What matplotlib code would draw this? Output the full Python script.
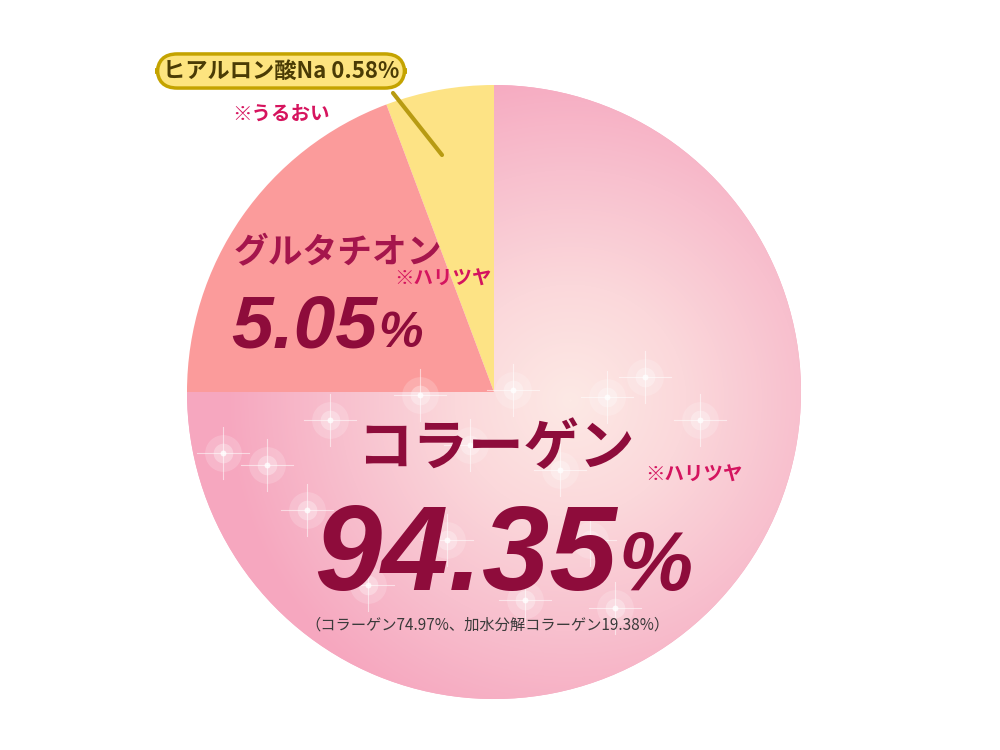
import numpy as np
import matplotlib
matplotlib.use("Agg")
import matplotlib.pyplot as plt
from matplotlib import font_manager
from matplotlib.colors import LinearSegmentedColormap

plt.rcParams['font.family'] = ['Noto Sans CJK JP', 'DejaVu Sans']

# データ（表示上の割合は画像の角度から読み取り）
ingredients = ["ヒアルロン酸Na", "グルタチオン", "コラーゲン"]
label_values = ["0.58", "5.05", "94.35"]
shares = [5.7, 19.3, 75.0]
notes = ["※うるおい", "※ハリツヤ", "※ハリツヤ"]
breakdown = "（コラーゲン74.97%、加水分解コラーゲン19.38%）"

# 数字用フォント（Narrowがあれば使う）
names = {f.name for f in font_manager.fontManager.ttflist}
num_font = 'Liberation Sans Narrow' if 'Liberation Sans Narrow' in names else 'Liberation Sans'

fig = plt.figure(figsize=(10, 7.5), dpi=100)
ax = fig.add_axes([0, 0, 1, 1])
cx, cy, r = 494, 392, 307

wedges, _ = ax.pie(shares, colors=['#fde385', '#fb9b9b', '#f6a8c0'],
                   startangle=270, counterclock=False, radius=r, center=(cx, cy),
                   wedgeprops=dict(linewidth=0))

# コラーゲン部分のグラデーション
x0, x1, y0, y1 = cx - r, cx + r, cy - r, cy + r
xx, yy = np.meshgrid(np.arange(x0, x1), np.arange(y0, y1))
t = np.clip(np.hypot(xx - 570, yy - 400) / 345, 0, 1)
cmap = LinearSegmentedColormap.from_list('pk', ['#fde9e5', '#fbd8db', '#f8c0ce', '#f6a7bf'])
im = ax.imshow(t, cmap=cmap, extent=(x0, x1, y1, y0), origin='upper', interpolation='bilinear', zorder=2)
im.set_clip_path(wedges[2])

# pie/imshow のあとで座標範囲を固定
ax.set_xlim(0, 1000)
ax.set_ylim(750, 0)
ax.set_aspect('equal')
ax.axis('off')

# キラキラ（控えめな光）
sparkles = [(223, 453), (267, 465), (307, 510), (513, 390), (607, 397), (645, 377),
            (560, 470), (447, 540), (368, 585), (525, 600), (615, 608), (700, 420),
            (330, 420), (470, 445), (590, 540), (420, 395)]
for sx, sy in sparkles:
    ax.scatter(sx, sy, s=700, c='white', alpha=0.18, linewidths=0, zorder=3)
    ax.scatter(sx, sy, s=200, c='white', alpha=0.3, linewidths=0, zorder=3)
    ax.plot([sx - 26, sx + 26], [sy, sy], color='white', lw=0.8, alpha=0.55, zorder=3)
    ax.plot([sx, sx], [sy - 26, sy + 26], color='white', lw=0.8, alpha=0.55, zorder=3)
    ax.scatter(sx, sy, s=18, c='white', alpha=0.8, linewidths=0, zorder=3)

# ヒアルロン酸Na ラベル
ax.plot([393, 442], [93, 155], color='#b89b12', lw=3, solid_capstyle='round', zorder=4)
ax.text(281, 71, f"{ingredients[0]} {label_values[0]}%", fontsize=16, fontweight='bold',
        color='#4a3b05', ha='center', va='center', zorder=5,
        bbox=dict(boxstyle='round,pad=0.25,rounding_size=0.9', fc='#fde47f', ec='#c4a300', lw=2.5))
ax.text(281, 114, notes[0], fontsize=14, fontweight='bold', color='#d6145e',
        ha='center', va='center', zorder=5)

crimson = '#8e0c3b'


def number_with_pct(x, y, value, size, pct_size):
    num = ax.text(x, y, value, family=num_font, fontsize=size, fontweight='bold',
                  style='italic', color=crimson, ha='left', va='baseline', zorder=5)
    fig.canvas.draw()
    bb = num.get_window_extent()
    right = ax.transData.inverted().transform((bb.x1, bb.y0))[0]
    ax.text(right + size * 0.02, y, '%', family=num_font, fontsize=pct_size, fontweight='bold',
            style='italic', color=crimson, ha='left', va='baseline', zorder=5)


# グルタチオン
ax.text(338, 253, ingredients[1], fontsize=25, fontweight='bold', color='#a5154c',
        ha='center', va='center', zorder=5)
ax.text(443, 279, notes[1], fontsize=14, fontweight='bold', color='#d4145f',
        ha='center', va='center', zorder=5)
number_with_pct(231, 347, label_values[1], 54, 36)

# コラーゲン
ax.text(496, 449, ingredients[2], fontsize=40, fontweight='bold', color=crimson,
        ha='center', va='center', zorder=5)
ax.text(694, 475, notes[2], fontsize=14, fontweight='bold', color='#d4145f',
        ha='center', va='center', zorder=5)
number_with_pct(314, 590, label_values[2], 87, 60)
ax.text(487, 625, breakdown, fontsize=11, color='#3a3a3a', ha='center', va='center', zorder=5)

fig.savefig('out.png', dpi=100, facecolor='white')
